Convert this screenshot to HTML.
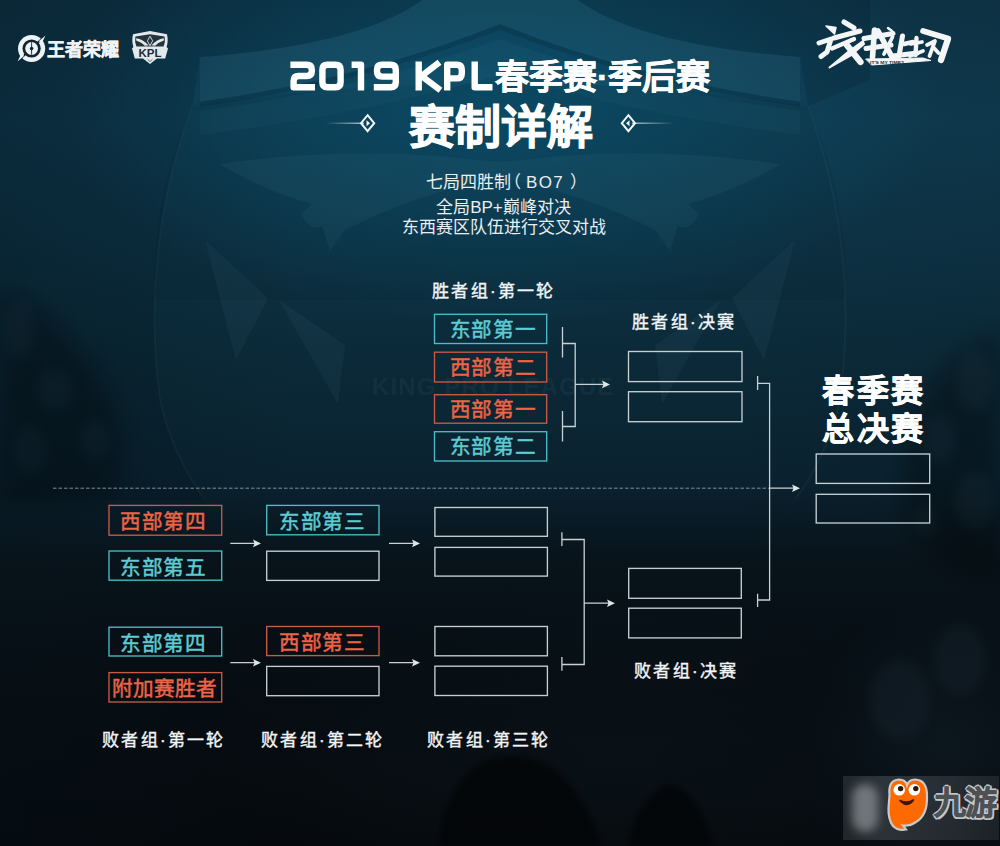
<!DOCTYPE html>
<html lang="zh-CN">
<head>
<meta charset="utf-8">
<style>
html,body{margin:0;padding:0}
html{background:#071018}
body{width:1000px;height:846px;overflow:hidden;position:relative;font-family:"Liberation Sans",sans-serif;
background:#0a1620;}
#bg{position:absolute;left:0;top:0;width:1000px;height:846px;
background:
 radial-gradient(ellipse 440px 220px at 500px 105px, rgba(10,92,125,0.6), rgba(10,92,125,0) 100%),
 linear-gradient(90deg, rgba(6,20,28,0.25) 0px, rgba(6,20,28,0) 300px, rgba(6,20,28,0) 700px, rgba(6,20,28,0.08) 1000px),
 linear-gradient(180deg,#0e3447 0px,#0f3a4f 120px,#0d3244 250px,#0b2836 380px,#0a2230 480px,#08131a 560px,#060c11 700px,#05090d 846px);}
.t{position:absolute;line-height:1;white-space:nowrap;color:#fff}
.box{position:absolute;box-sizing:border-box;border:1px solid #c9d3d6;width:114px;height:30px}
.cy{border-color:#4fb9c3;color:#62c9d2}
.rd{border-color:#d9553c;color:#f0623f}
.bx{position:absolute;text-align:center;font-size:20px;line-height:28px;white-space:nowrap}
.ln{position:absolute;background:#c3cdd0}
.lab{position:absolute;margin-top:1px;line-height:1;white-space:nowrap;color:#f2f5f6;font-size:17px;letter-spacing:2.3px;-webkit-text-stroke:0.4px #f2f5f6}
.bt{position:absolute;line-height:21px;font-size:20.6px;white-space:nowrap;-webkit-text-stroke:0.45px currentColor}
</style>
</head>
<body>
<div id="bg"></div>
<div style="position:absolute;left:0;top:0;width:1000px;height:846px;background:radial-gradient(ellipse 420px 160px at 620px 760px, rgba(40,70,85,0.10), rgba(40,70,85,0))"></div>
<div style="position:absolute;left:800px;top:600px;width:300px;height:300px;border-radius:50%;background:radial-gradient(closest-side,rgba(40,70,90,0.16),rgba(40,70,90,0));"></div>
<div style="position:absolute;left:372px;top:376px;font-size:23px;font-weight:bold;color:rgba(130,180,200,0.06);letter-spacing:1px;white-space:nowrap;line-height:1;transform:scaleX(1.05);transform-origin:0 0">KING PRO LEAGUE</div>
<svg style="position:absolute;left:0;top:0" width="1000" height="846">
 <defs><filter id="bl" x="-50%" y="-50%" width="200%" height="200%"><feGaussianBlur stdDeviation="12"/></filter></defs>
 <g fill="rgba(2,10,14,0.3)" filter="url(#bl)">
  <path d="M0 290Q40 300 70 340Q110 380 120 430Q125 470 110 500L0 510Z"/>
  <path d="M1000 330Q950 350 920 400Q895 450 905 520Q915 560 1000 580Z"/>
 </g>
 <defs><filter id="bl3" x="-50%" y="-50%" width="200%" height="200%"><feGaussianBlur stdDeviation="3"/></filter></defs>
 <g fill="rgba(1,4,6,0.55)" filter="url(#bl3)">
  <path d="M440 846Q442 795 475 765Q515 745 555 768Q590 800 600 846Z"/>
  <path d="M628 846Q636 800 668 783Q700 790 712 846Z"/>
 </g>
 <defs><filter id="bl2" x="-50%" y="-50%" width="200%" height="200%"><feGaussianBlur stdDeviation="6"/></filter></defs>
 <g fill="rgba(100,140,165,0.06)" filter="url(#bl2)">
  <ellipse cx="20" cy="330" rx="14" ry="30"/><ellipse cx="55" cy="390" rx="18" ry="22"/><ellipse cx="95" cy="440" rx="16" ry="20"/><ellipse cx="30" cy="450" rx="16" ry="25"/>
  <ellipse cx="975" cy="380" rx="18" ry="30"/><ellipse cx="940" cy="440" rx="16" ry="24"/><ellipse cx="975" cy="500" rx="20" ry="28"/><ellipse cx="925" cy="520" rx="10" ry="16"/>
  <ellipse cx="900" cy="700" rx="30" ry="40"/><ellipse cx="960" cy="660" rx="25" ry="35"/>
 </g>
 <g id="shL">
  <path d="M219 164Q330 148 440 156L500 162V178Q420 192 345 230L330 251L322 226Q310 232 301 214L312 204Q262 190 219 164Z" fill="rgba(130,200,225,0.06)"/>
  <path d="M205 240L268 298L236 360Z" fill="rgba(130,200,225,0.05)"/>
  <path d="M279 300L345 345L338 404Z" fill="rgba(130,200,225,0.05)"/>
  <path d="M192 106Q140 250 160 400Q172 455 205 500" fill="none" stroke="rgba(130,200,225,0.05)" stroke-width="2"/>
 </g>
 <use href="#shL" transform="translate(1000,0) scale(-1,1)"/>
 <path d="M0 0H422Q360 45 200 57L192 106Q140 250 160 400Q172 455 205 500H0Z" fill="rgba(0,10,16,0.12)"/>
 <path d="M578 0Q640 45 800 57L808 106L870 80V0Z" fill="rgba(0,10,16,0.12)"/>
 <path d="M422 0H578Q640 45 800 57V102Q640 80 500 24Q360 80 200 102V57Q360 45 422 0Z" fill="rgba(130,200,225,0.06)"/>
 <path d="M200 104Q360 82 500 27Q640 82 800 104" fill="none" stroke="rgba(0,10,16,0.12)" stroke-width="5"/>
 <path d="M200 111Q360 90 500 39Q640 90 800 111V135Q640 115 500 75Q360 115 200 135Z" fill="rgba(130,200,225,0.04)"/>
 <path d="M192 106Q500 60 808 106Q850 200 845 300L155 300Q150 200 192 106Z" fill="rgba(0,10,16,0.07)"/>
</svg>

<!-- logos -->
<svg style="position:absolute;left:0;top:0" width="180" height="80">
 <circle cx="31.6" cy="48.5" r="13.6" fill="#eef2f4"/>
 <path d="M17.5 61.5L45.5 35.5" stroke="#0d2433" stroke-width="1.8"/>
 <circle cx="31.6" cy="48.5" r="9.1" fill="#0d2433"/>
 <circle cx="31.6" cy="48.5" r="6.4" fill="#eef2f4"/>
 <circle cx="31.6" cy="48.5" r="1.8" fill="#0d2433"/>
 <path d="M31.6 42.2V54.8" stroke="#0d2433" stroke-width="0.9"/>
 <path d="M45.5 35.5L41 45L39 41Z M17.5 61.5L22 52L24 56Z" fill="#eef2f4"/>
 <g transform="translate(133,31)">
  <path d="M17 0L34 3.2Q35.5 10 33.6 16L35 17.6L32.2 27.6H24L17 33L10 27.6H1.8L-1 17.6L0.4 16Q-1.5 10 0 3.2Z" fill="#e2e9ed"/>
  <path d="M17 3.2L31.6 5.4Q32.6 10.5 30.6 15.6H3.4Q1.4 10.5 2.4 5.4Z" fill="#24343e"/>
  <path d="M3.2 7.2Q10 8 15.6 14.6L12.4 14.6Q8 11.4 3.2 9.6Z M30.8 7.2Q24 8 18.4 14.6L21.6 14.6Q26 11.4 30.8 9.6Z" fill="#e2e9ed"/>
  <path d="M17 5.2L19.6 9.8L17 14.8L14.4 9.8Z" fill="none" stroke="#e2e9ed" stroke-width="0.9"/>
  <path d="M9 11.5L13 15.6M25 11.5L21 15.6" stroke="#e2e9ed" stroke-width="0.9"/>
  <text x="17" y="25.8" text-anchor="middle" font-family="Liberation Sans" font-weight="bold" font-size="10" fill="#1b2a33" textLength="23" lengthAdjust="spacingAndGlyphs">KPL</text>
  <path d="M14.5 28.2L17 30.6L19.5 28.2" fill="none" stroke="#24343e" stroke-width="0.7"/>
 </g>
</svg>
<div class="t" style="left:47px;top:41px;font-size:18px;font-weight:bold;color:#f0f4f6;-webkit-text-stroke:0.4px #f0f4f6;letter-spacing:0px">王者荣耀</div>

<!-- calligraphy -->
<svg style="position:absolute;left:800px;top:10px" width="170" height="70" viewBox="800 10 170 70">
 <g fill="#f3f5f6" stroke="#f3f5f6" stroke-linecap="round" stroke-linejoin="round">
  <path d="M826 26L836 27.5L834.5 34Z" stroke-width="1.5"/>
  <path d="M819 43L831 39L827 52L821 56.5" fill="none" stroke-width="5"/>
  <path d="M844 22L854 28" fill="none" stroke-width="5"/>
  <path d="M834 38L860 31" fill="none" stroke-width="5"/>
  <path d="M832 48.5L854 39" fill="none" stroke-width="4.38"/>
  <path d="M829.5 67.5L848 52L863 41L864 44L850 56Z" stroke-width="2"/>
  <path d="M846 44L860.5 62" fill="none" stroke-width="6.25"/>
  <path d="M864 38.5L893 33.5" fill="none" stroke-width="5"/>
  <path d="M866 48.5L891 45" fill="none" stroke-width="5"/>
  <path d="M874.5 30L872.5 57" fill="none" stroke-width="5.62"/>
  <path d="M878 31L892 57" fill="none" stroke-width="5.62"/>
  <path d="M892.5 37L884 54" fill="none" stroke-width="3.75"/>
  <path d="M888 28L892 31" fill="none" stroke-width="2.5"/>
  <path d="M902.5 36L899 56" fill="none" stroke-width="5"/>
  <path d="M904 44L913 42" fill="none" stroke-width="4.38"/>
  <path d="M893 56L917 53" fill="none" stroke-width="5"/>
  <path d="M911 44L922 42" fill="none" stroke-width="3.75"/>
  <path d="M916.5 38L915.5 55" fill="none" stroke-width="4.38"/>
  <path d="M910 56L923 51" fill="none" stroke-width="3.75"/>
  <path d="M923 31L948 38.5" fill="none" stroke-width="5.62"/>
  <path d="M948 39L941 60" fill="none" stroke-width="6.25"/>
  <path d="M927 45L935 41L929.5 56" fill="none" stroke-width="3.75"/>
  <path d="M934 48L938.5 53" fill="none" stroke-width="3.75"/>
  <path d="M866 59L923 58L931 60.5L872 65Z" stroke-width="1"/>
 </g>
 <text x="870" y="63.6" font-family="Liberation Sans" font-weight="bold" font-size="4.2" fill="#1a2c36" textLength="34" lengthAdjust="spacingAndGlyphs">IT'S MY TIME?</text>
</svg>

<!-- titles -->
<svg style="position:absolute;left:0;top:0" width="1000" height="120">
 <g stroke="#fff" stroke-width="6.4" fill="none" stroke-linejoin="round">
  <path d="M290.4 64.8H306.8Q311.8 64.8 311.8 69.8V71Q311.8 76 306.8 76H298.6Q293.6 76 293.6 81V87.2H315"/>
  <path d="M327.4 64.8H335.6Q340.6 64.8 340.6 69.8V82.2Q340.6 87.2 335.6 87.2H327.4Q322.4 87.2 322.4 82.2V69.8Q322.4 64.8 327.4 64.8Z"/>
  <path d="M351.6 64.8H361V90.4"/>
  <path d="M395.8 76.6H382Q377 76.6 377 71.6V69.8Q377 64.8 382 64.8H390.8Q395.8 64.8 395.8 69.8V82.2Q395.8 87.2 390.8 87.2H373.8"/>
  <path d="M418.7 61.6V90.4M439.5 62.2L421.5 76L440.5 90.2"/>
  <path d="M447.2 90.4V64.8H456.8Q461.8 64.8 461.8 69.8V73.4Q461.8 78.4 456.8 78.4H447.2"/>
  <path d="M474.7 61.6V87.2H492.5"/>
 </g>
</svg>
<div class="t" id="t1b" style="left:495px;top:60px;font-size:34px;font-weight:bold;-webkit-text-stroke:0.6px #fff">春季赛·季后赛</div>
<div class="t" id="t2" style="left:408.5px;top:104px;font-size:46px;font-weight:bold;-webkit-text-stroke:1px #fff">赛制详解</div>

<div class="t" style="left:426px;top:174px;font-size:17px;color:#e9eff1">七局四胜制<span style="margin-left:-7px">（</span><span style="margin-left:5px;letter-spacing:1.3px">BO7</span><span style="margin-left:6px">）</span></div>
<div class="t" style="left:0;width:1007px;text-align:center;top:198.5px;font-size:17px;color:#e9eff1">全局BP+巅峰对决</div>
<div class="t" style="left:0;width:1007px;text-align:center;top:219px;font-size:17px;color:#e9eff1">东西赛区队伍进行交叉对战</div>

<!-- diamonds -->
<svg style="position:absolute;left:0;top:0" width="1000" height="150">
 <defs>
  <linearGradient id="gl" x1="0" x2="1"><stop offset="0" stop-color="#cfe3ea" stop-opacity="0"/><stop offset="1" stop-color="#dbeaf0" stop-opacity="0.95"/></linearGradient>
  <linearGradient id="gr" x1="1" x2="0"><stop offset="0" stop-color="#cfe3ea" stop-opacity="0"/><stop offset="1" stop-color="#dbeaf0" stop-opacity="0.95"/></linearGradient>
 </defs>
 <rect x="326" y="122.6" width="38" height="1.2" fill="url(#gl)"/>
 <rect x="632" y="122.6" width="42" height="1.2" fill="url(#gr)"/>
 <g fill="none" stroke="#f4f8fa" stroke-width="2">
  <path d="M367.6 115.2L374.2 123.2L367.6 131.2L361 123.2Z"/>
  <path d="M628.4 115.2L635 123.2L628.4 131.2L621.8 123.2Z"/>
 </g>
 <path d="M366.5 120.2L370 123.2L366.5 126.2Z M629.5 120.2L626 123.2L629.5 126.2Z" fill="#f4f8fa"/>
</svg>
<!-- winner bracket -->
<div class="lab" style="left:432px;top:282px">胜者组·第一轮</div>
<div class="lab" style="left:632px;top:313px">胜者组·决赛</div>
<div class="t" style="left:822px;top:375px;font-size:32px;letter-spacing:2.5px;font-weight:bold;-webkit-text-stroke:0.6px #fff">春季赛</div>
<div class="t" style="left:822px;top:413px;font-size:32px;letter-spacing:2.5px;font-weight:bold;-webkit-text-stroke:0.6px #fff">总决赛</div>
<div class="lab" style="left:634px;top:662px">败者组·决赛</div>
<div class="lab" style="left:102px;top:731px">败者组·第一轮</div>
<div class="lab" style="left:261px;top:731px">败者组·第二轮</div>
<div class="lab" style="left:427px;top:731px">败者组·第三轮</div>
<svg style="position:absolute;left:0;top:0" width="1000" height="846">
 <g fill="none" stroke-width="1.35">
  <rect x="434.5" y="314.3" width="112.2" height="29.2" stroke="#4cbcc6"/>
  <rect x="434.5" y="352.2" width="112.2" height="29.8" stroke="#c95a48"/>
  <rect x="434.5" y="394.7" width="112.2" height="28.5" stroke="#c95a48"/>
  <rect x="434.5" y="431.7" width="112.2" height="29.3" stroke="#4cbcc6"/>
  <rect x="628.5" y="351.5" width="113.5" height="30.1" stroke="#c5cfd3"/>
  <rect x="628.5" y="391.7" width="113.5" height="30.0" stroke="#c5cfd3"/>
  <rect x="816.2" y="454" width="113.5" height="29.4" stroke="#c5cfd3"/>
  <rect x="816.2" y="494.3" width="113.5" height="28.7" stroke="#c5cfd3"/>
  <rect x="109" y="505.4" width="112.7" height="29.8" stroke="#c95a48"/>
  <rect x="109" y="551" width="112.7" height="29.2" stroke="#4cbcc6"/>
  <rect x="109" y="627.2" width="112.7" height="28.8" stroke="#4cbcc6"/>
  <rect x="109" y="672.6" width="112.7" height="29.4" stroke="#c95a48"/>
  <rect x="266.7" y="505.4" width="112.3" height="29.4" stroke="#4cbcc6"/>
  <rect x="266.7" y="551.2" width="112.3" height="29.2" stroke="#c5cfd3"/>
  <rect x="266.7" y="626.5" width="112.3" height="29.1" stroke="#c95a48"/>
  <rect x="266.7" y="666.4" width="112.3" height="29.3" stroke="#c5cfd3"/>
  <rect x="434.9" y="507.5" width="112.5" height="28.8" stroke="#c5cfd3"/>
  <rect x="434.9" y="547.4" width="112.5" height="28.7" stroke="#c5cfd3"/>
  <rect x="434.9" y="626.5" width="112.5" height="29.3" stroke="#c5cfd3"/>
  <rect x="434.9" y="666.2" width="112.5" height="29.3" stroke="#c5cfd3"/>
  <rect x="628.7" y="568.4" width="112.6" height="29.9" stroke="#c5cfd3"/>
  <rect x="628.7" y="608.2" width="112.6" height="29.7" stroke="#c5cfd3"/>
 </g>
 <g stroke="#c8d2d5" stroke-width="1.3" fill="none">
  <path d="M562.5 327V357.5M562.5 343.5H575.2V426.5H562.5M562.5 411V441.5M575.2 384.4H604"/>
  <path d="M757.6 376V390M757.6 383.3H769.6V600H757.6M757.6 593.7V607M769.6 488.2H794"/>
  <path d="M561.9 532.2V545.9M561.9 539.5H584.2V664.5H561.9M561.9 657V670.8M584.2 603.2H609"/>
  <path d="M230.3 543.4H255M230.3 662.7H255M389 543.4H414M389 662.7H414"/>
 </g>
 <path d="M53 488.2H769" stroke-dasharray="3.5 2" stroke="#7f9096" stroke-width="1" fill="none"/>
 <g fill="#dfe6e8">
  <path d="M610 384.4L602 380.6L603.5 384.4L602 388.2Z"/>
  <path d="M800 488.2L792 484.4L793.5 488.2L792 492Z"/>
  <path d="M615 603.2L607 599.4L608.5 603.2L607 607Z"/>
  <path d="M261 543.4L253 539.6L254.5 543.4L253 547.2Z"/>
  <path d="M261 662.7L253 658.9L254.5 662.7L253 666.5Z"/>
  <path d="M420 543.4L412 539.6L413.5 543.4L412 547.2Z"/>
  <path d="M420 662.7L412 658.9L413.5 662.7L412 666.5Z"/>
 </g>
</svg>
<div class="bt" style="left:449.8px;top:318.9px;color:#5fccd4;letter-spacing:0.6px">东部第一</div>
<div class="bt" style="left:449.8px;top:357.1px;color:#ee6446;letter-spacing:0.6px">西部第二</div>
<div class="bt" style="left:449.8px;top:398.9px;color:#ee6446;letter-spacing:0.6px">西部第一</div>
<div class="bt" style="left:449.8px;top:436.4px;color:#5fccd4;letter-spacing:0.6px">东部第二</div>
<div class="bt" style="left:120.3px;top:511.3px;color:#ee6446;letter-spacing:0.6px">西部第四</div>
<div class="bt" style="left:120.3px;top:556.6px;color:#5fccd4;letter-spacing:0.6px">东部第五</div>
<div class="bt" style="left:120.3px;top:632.6px;color:#5fccd4;letter-spacing:0.6px">东部第四</div>
<div class="bt" style="left:112.3px;top:678.3px;color:#ee6446;letter-spacing:0px">附加赛胜者</div>
<div class="bt" style="left:279.1px;top:511.1px;color:#5fccd4;letter-spacing:0.6px">东部第三</div>
<div class="bt" style="left:279.3px;top:632px;color:#ee6446;letter-spacing:0.6px">西部第三</div>

<!-- watermark -->
<div style="position:absolute;left:843px;top:776px;width:156px;height:64px;background:linear-gradient(90deg,rgba(90,95,100,0.30),rgba(120,125,130,0.32) 25%,rgba(100,105,110,0.30) 70%,rgba(80,85,90,0.28));"></div>
<div style="position:absolute;left:852px;top:784px;width:26px;height:48px;border-radius:13px;background:rgba(200,204,208,0.45);filter:blur(5px)"></div>
<svg style="position:absolute;left:0;top:0" width="1000" height="846">
 <path d="M889.5 795Q888 780 899 779.5Q905.5 779.5 907 785Q909 779.5 915 779.5Q927.5 780 927 797Q927.5 815 916 822Q909 826.5 903 825.5L906 829.5Q898 831 893 826Q888 819 888.5 808Z" fill="#ff6a00" stroke="#c8cacc" stroke-width="2.2"/>
 <circle cx="899.2" cy="789.8" r="5.8" fill="#fff"/><circle cx="914.4" cy="789.8" r="5.8" fill="#fff"/>
 <circle cx="900.6" cy="788.6" r="2.7" fill="#2a1408"/><circle cx="915.8" cy="788.6" r="2.7" fill="#2a1408"/>
 <path d="M900 800.5Q907 808.5 913.5 800Q907 804 900 800.5Z" fill="#3a1606" stroke="#3a1606" stroke-width="1.6" stroke-linejoin="round"/>
</svg>
<div class="t" style="left:934px;top:787px;font-size:32px;font-weight:bold;color:#4e5154;-webkit-text-stroke:0.8px #4e5154;letter-spacing:-1px;text-shadow:2px 0 #c5c7c9,-2px 0 #c5c7c9,0 2px #c5c7c9,0 -2px #c5c7c9,1.5px 1.5px #c5c7c9,-1.5px 1.5px #c5c7c9,1.5px -1.5px #c5c7c9,-1.5px -1.5px #c5c7c9">九游</div>
</body>
</html>
